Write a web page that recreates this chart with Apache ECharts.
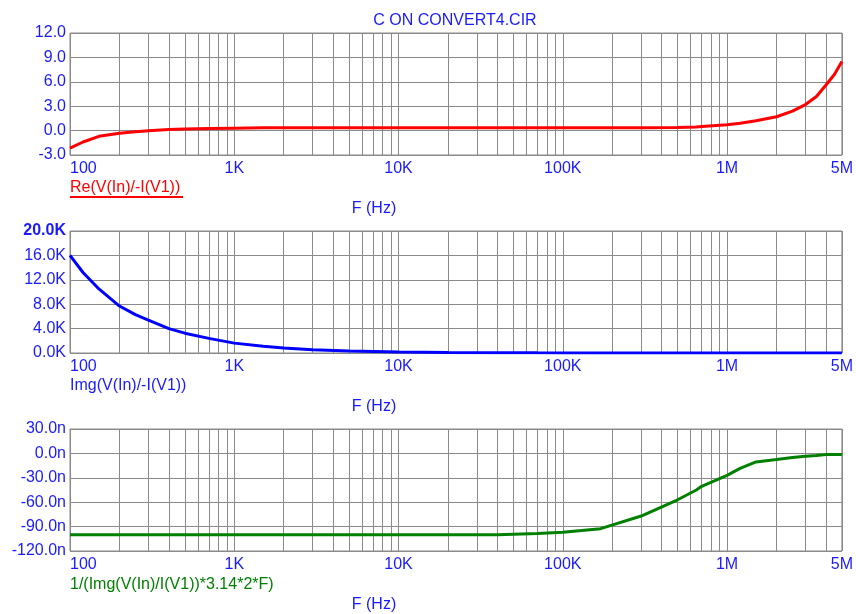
<!DOCTYPE html>
<html>
<head>
<meta charset="utf-8">
<script src="https://cdn.jsdelivr.net/npm/echarts@6/dist/echarts.min.js"></script>
<style>
  html, body { margin: 0; padding: 0; background: #fff; }
  #main { width: 856px; height: 614px; }
</style>
</head>
<body>
<div id="main"></div>
<script>
// frequency points (Hz)
const freq = [100, 120, 150, 200, 250, 300, 400, 500, 700, 1e3, 1.5e3, 2e3, 3e3, 5e3,
  1e4, 2e4, 4e4, 7e4, 1e5, 1.7e5, 3e5, 5e5, 6.5e5, 7e5, 1e6, 1.2e6, 1.5e6,
  2e6, 2.5e6, 3e6, 3.5e6, 4e6, 4.5e6, 5e6];
// Re(V(In)/-I(V1))
const reVals = [-2.15, -1.4, -0.7, -0.33, -0.15, -0.02, 0.15, 0.2, 0.25, 0.3, 0.35, 0.35, 0.35, 0.35,
  0.35, 0.35, 0.35, 0.35, 0.35, 0.35, 0.35, 0.38, 0.45, 0.5, 0.72, 0.9, 1.2,
  1.7, 2.4, 3.2, 4.2, 5.6, 6.9, 8.5];
// Img(V(In)/-I(V1))
const imVals = [16000, 13200, 10500, 7700, 6300, 5400, 4000, 3250, 2400, 1620, 1100, 820, 540, 320,
  160, 80, 40, 23, 16, 9, 5, 3, 2.5, 2.3, 1.6, 1.3, 1.1,
  0.8, 0.6, 0.5, 0.45, 0.4, 0.35, 0.3];
// 1/(Img(V(In)/I(V1))*3.14*2*F), in nF
const capVals = [-100, -100, -100, -100, -100, -100, -100, -100, -100, -100, -100, -100, -100, -100,
  -100, -100, -100, -98.5, -97, -92.5, -77, -57, -45, -40.5, -27, -18.5, -10.5,
  -7.5, -5, -3.5, -2.5, -1.5, -1.5, -1.5];

const xTicks = {100: '100', 1000: '1K', 10000: '10K', 100000: '100K', 1000000: '1M', 5000000: '5M'};

const blue = '#1a1aff';
const gridColor = '#8a8a8a';
const font = 'Liberation Sans, Arial, sans-serif';

// minor log grid lines (2..9 per decade)
const minorX = [];
for (let d = 100; d < 5e6; d *= 10) {
  for (let k = 2; k <= 9; k++) {
    if (d * k < 5e6) minorX.push(d * k);
  }
}

const tops = [33, 231, 429];
const grids = tops.map(t => ({
  left: 70, right: 14, top: t, height: 122,
  show: true, borderColor: gridColor, borderWidth: 1
}));

const xAxes = [0, 1, 2].map(i => ({
  type: 'log', logBase: 10, min: 100, max: 5e6, gridIndex: i,
  axisLine: {show: false}, axisTick: {show: false},
  splitLine: {show: true, lineStyle: {color: gridColor, width: 1}},
  axisLabel: {
    color: blue, fontSize: 16, fontFamily: font, margin: 6,
    alignMinLabel: 'left', showMaxLabel: true,
    formatter: v => xTicks[Math.round(v)] || ''
  }
}));

const yBase = {
  axisLine: {show: false}, axisTick: {show: false},
  splitLine: {show: true, lineStyle: {color: gridColor, width: 1}}
};
const yLabel = {color: blue, fontSize: 16, fontFamily: font, margin: 4};
const yAxes = [
  Object.assign({gridIndex: 0, min: -3, max: 12, interval: 3,
    axisLabel: Object.assign({}, yLabel, {formatter: v => v.toFixed(1)})}, yBase),
  Object.assign({gridIndex: 1, min: 0, max: 20000, interval: 4000,
    axisLabel: Object.assign({}, yLabel, {
      formatter: v => v === 20000 ? '{b|20.0K}' : (v / 1000).toFixed(1) + 'K',
      rich: {b: {color: blue, fontSize: 16, fontFamily: font, fontWeight: 'bold'}}
    })}, yBase),
  Object.assign({gridIndex: 2, min: -120, max: 30, interval: 30,
    axisLabel: Object.assign({}, yLabel, {formatter: v => v.toFixed(1) + 'n'})}, yBase)
];

function minorLines() {
  return {
    silent: true, symbol: 'none', z: 1, animation: false,
    label: {show: false},
    lineStyle: {color: gridColor, width: 1, type: 'solid'},
    data: minorX.map(v => ({xAxis: v}))
  };
}

function mkSeries(i, vals, color) {
  return {
    type: 'line', xAxisIndex: i, yAxisIndex: i, z: 3,
    data: freq.map((f, j) => [f, vals[j]]),
    showSymbol: false, symbol: 'none',
    lineStyle: {color: color, width: 3},
    markLine: minorLines()
  };
}

function txt(x, y, text, color, align) {
  return {
    type: 'text', x: x, y: y, z: 10,
    style: {text: text, fill: color, font: '16px ' + font, align: align || 'left', verticalAlign: 'middle'}
  };
}

const chart = echarts.init(document.getElementById('main'));
chart.setOption({
  animation: false,
  backgroundColor: '#fff',
  grid: grids,
  xAxis: xAxes,
  yAxis: yAxes,
  series: [
    mkSeries(0, reVals, '#ff0000'),
    mkSeries(1, imVals, '#0000ff'),
    mkSeries(2, capVals, '#008000')
  ],
  graphic: [
    txt(455, 21, 'C ON CONVERT4.CIR', blue, 'center'),
    txt(70, 188, 'Re(V(In)/-I(V1))', '#ff0000'),
    {type: 'rect', z: 10, shape: {x: 70, y: 196, width: 113, height: 2}, style: {fill: '#ff0000'}},
    txt(70, 386, 'Img(V(In)/-I(V1))', blue),
    txt(70, 585, '1/(Img(V(In)/I(V1))*3.14*2*F)', '#008000'),
    txt(374, 209, 'F (Hz)', blue, 'center'),
    txt(374, 407, 'F (Hz)', blue, 'center'),
    txt(374, 605, 'F (Hz)', blue, 'center')
  ]
});
window.addEventListener('resize', function() {
  chart.resize();
});
</script>
</body>
</html>
